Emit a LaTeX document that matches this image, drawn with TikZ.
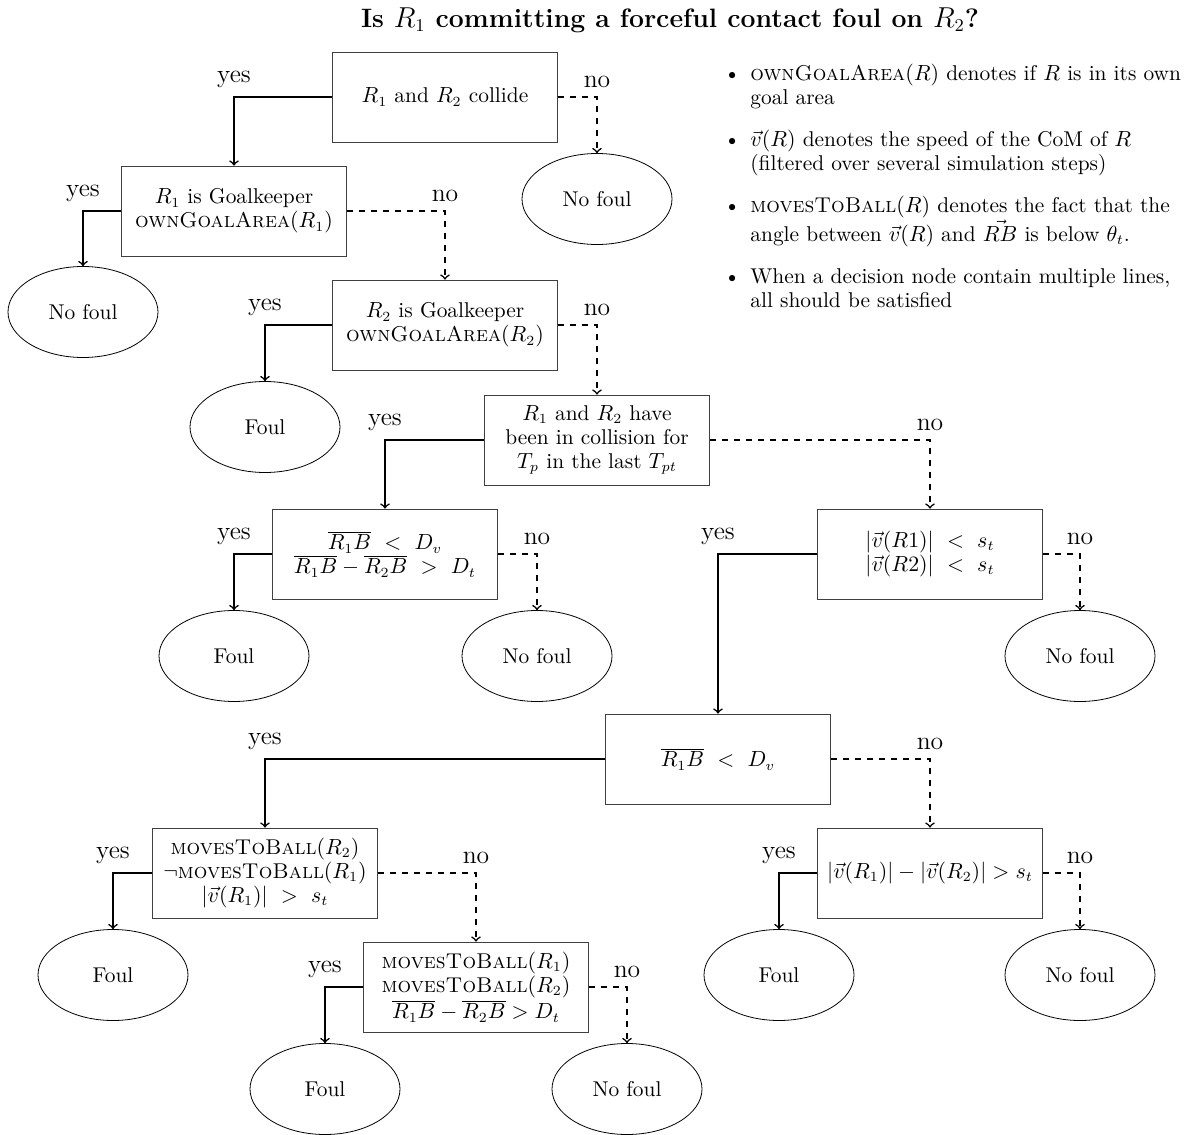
\documentclass[tikz,border=0pt]{standalone}
\usepackage{tikz}
\usepackage{amsmath}
\usepackage{amssymb}
\usetikzlibrary{shapes.geometric}

\begin{document}
\begin{tikzpicture}[x=0.5pt,y=-0.5pt,font=\fontsize{10.7}{12}\selectfont,
                    test/.style={draw=black!75,rectangle,minimum width=112.5pt,minimum height=45pt,align=center},
                    leaf/.style={draw,ellipse,minimum width=75pt,minimum height=45.5pt},
                    yesline/.style={->,thick},
                    noline/.style={->,thick,dashed},
                    lbl/.style={above=1pt,font=\fontsize{12.8}{15}\selectfont}]
                            \useasboundingbox (0,0) rectangle (1184,1135);
                            \node [font=\fontsize{13.3}{16}\selectfont\bfseries] (title) at (670,20) {Is $R_1$ committing a forceful contact foul on $R_2$?};
                            % decision nodes
                            \node [test] (c1) at (445,97) {$R_1$ and $R_2$ collide};
                            \node [test] (c2) at (234,211) {$R_1$ is Goalkeeper\\\textsc{ownGoalArea}$(R_1)$};
                            \node [test] (c3) at (445,325) {$R_2$ is Goalkeeper\\\textsc{ownGoalArea}$(R_2)$};
                            \node [test] (c4) at (597,440) {$R_1$ and $R_2$ have\\been in collision for\\$T_p$ in the last $T_{pt}$};
                            \node [test] (c5) at (385,554) {$\overline{R_1B}\ <\ D_v$\\$\overline{R_1B}-\overline{R_2B}\ >\ D_t$};
                            \node [test] (c6) at (930,554) {$|\vec{v}(R1)|\ <\ s_t$\\$|\vec{v}(R2)|\ <\ s_t$};
                            \node [test] (c7) at (718,759) {$\overline{R_1B}\ <\ D_v$};
                            \node [test] (c8) at (265,873) {\textsc{movesToBall}$(R_2)$\\$\neg$\textsc{movesToBall}$(R_1)$\\$|\vec{v}(R_1)|\ >\ s_t$};
                            \node [test] (c9) at (930,873) {$|\vec{v}(R_1)|-|\vec{v}(R_2)|>s_t$};
                            \node [test] (c10) at (476,987) {\textsc{movesToBall}$(R_1)$\\\textsc{movesToBall}$(R_2)$\\$\overline{R_1B}-\overline{R_2B}>D_t$};
                            % outcomes
                            \foreach \n/\x/\y in {nf1/597/199,nf2/83/312,nf3/537/656,nf4/1080/656,nf5/1080/975,nf6/627/1089}
                                \node [leaf] (\n) at (\x,\y) {No foul};
                            \foreach \n/\x/\y in {f1/265/427,f2/234/656,f3/113/975,f4/779/975,f5/325/1089}
                                \node [leaf] (\n) at (\x,\y) {Foul};
                            % branches
                            \foreach \a/\b in {c1/c2,c2/nf2,c3/f1,c4/c5,c5/f2,c6/c7,c7/c8,c8/f3,c9/f4,c10/f5}
                                \draw [yesline] (\a.west) -| node [lbl] {yes} (\b.north);
                            \foreach \a/\b in {c1/nf1,c2/c3,c3/c4,c4/c6,c5/nf3,c6/nf4,c7/c9,c8/c10,c9/nf5,c10/nf6}
                                \draw [noline] (\a.east) -| node [lbl] {no} (\b.north);
                            % legend
                            \node [anchor=north west,inner sep=0] (notes) at (700,64) {\begin{minipage}{250pt}\raggedright
                                \begin{itemize}\setlength{\itemsep}{5pt}
                                    \item \textsc{ownGoalArea}$(R)$ denotes if $R$ is in its own\\goal area
                                    \item $\vec{v}(R)$ denotes the speed of the CoM of $R$\\(filtered over several simulation steps)
                                    \item \textsc{movesToBall}$(R)$ denotes the fact that the\\angle between $\vec{v}(R)$ and $\vec{RB}$ is below $\theta_t$.
                                    \item When a decision node contain multiple lines,\\all should be satisfied
                                \end{itemize}\end{minipage}};
                        \end{tikzpicture}
\end{document}
